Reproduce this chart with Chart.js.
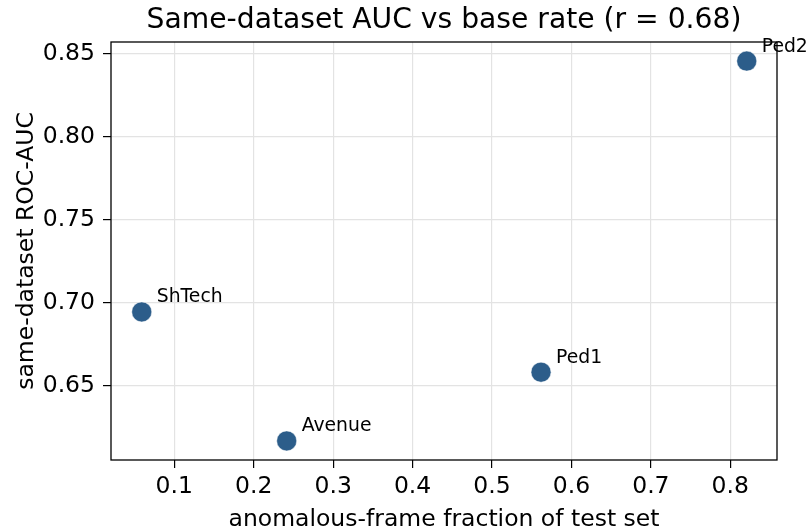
<!DOCTYPE html>
<html><head><meta charset="utf-8">
<script src="https://cdn.jsdelivr.net/npm/chart.js@4/dist/chart.umd.min.js"></script>
<style>html,body{margin:0;padding:0;background:#fff}#wrap{width:806px;height:529px}</style>
</head><body><div id="wrap"><canvas id="c" width="806" height="529"></canvas></div>
<script>
const labels = ['ShTech', 'Avenue', 'Ped1', 'Ped2'];
const anomFraction = [0.059, 0.2415, 0.5617, 0.8207];
const sameAuc = [0.6946, 0.6169, 0.6583, 0.8457];
const xTicks = [0.1, 0.2, 0.3, 0.4, 0.5, 0.6, 0.7, 0.8];
const yTicks = [0.65, 0.70, 0.75, 0.80, 0.85];
const titleText = 'Same-dataset AUC vs base rate (r = 0.68)';
const xLabel = 'anomalous-frame fraction of test set';
const yLabel = 'same-dataset ROC-AUC';

const FONT = "'DejaVu Sans', sans-serif";
const points = anomFraction.map((x, i) => ({x: x, y: sameAuc[i]}));

const deco = {
  id: 'deco',
  beforeDatasetsDraw(chart) {
    const {ctx, chartArea: a} = chart;
    ctx.save();
    ctx.strokeStyle = '#000';
    ctx.lineWidth = 1.3;
    ctx.strokeRect(a.left, a.top, a.right - a.left, a.bottom - a.top);
    ctx.restore();
  },
  afterDatasetsDraw(chart) {
    const {ctx, chartArea: a, scales} = chart;
    ctx.save();
    ctx.fillStyle = '#000';
    ctx.font = '18.8px ' + FONT;
    ctx.textAlign = 'left';
    ctx.textBaseline = 'alphabetic';
    points.forEach((p, i) => {
      const px = scales.x.getPixelForValue(p.x);
      const py = scales.y.getPixelForValue(p.y);
      ctx.fillText(labels[i], px + 15, py - 9.5);
    });
    ctx.textAlign = 'center';
    ctx.font = '28.2px ' + FONT;
    ctx.fillText(titleText, (a.left + a.right) / 2, 27.5);
    ctx.font = '23.5px ' + FONT;
    ctx.fillText(xLabel, (a.left + a.right) / 2, 526);
    ctx.translate(33, (a.top + a.bottom) / 2);
    ctx.rotate(-Math.PI / 2);
    ctx.fillText(yLabel, 0, 0);
    ctx.restore();
  }
};

new Chart(document.getElementById('c'), {
  type: 'scatter',
  data: {
    datasets: [{
      data: points,
      backgroundColor: '#2c5d8a',
      borderColor: 'rgba(255,255,255,0.6)',
      borderWidth: 0.8,
      pointRadius: 10,
      pointHoverRadius: 10
    }]
  },
  options: {
    responsive: false,
    animation: false,
    devicePixelRatio: 1,
    layout: {padding: {left: 0, right: 29, top: 42, bottom: 0}},
    plugins: {legend: {display: false}, tooltip: {enabled: false}, title: {display: false}},
    scales: {
      x: {
        type: 'linear', min: 0.0203, max: 0.8588,
        afterBuildTicks: s => { s.ticks = xTicks.map(v => ({value: v})); },
        afterFit: s => { s.height = 69; },
        grid: {color: '#e3e3e3', lineWidth: 1.2, tickColor: '#000', tickLength: 8, tickWidth: 1.2},
        border: {display: false},
        ticks: {color: '#000', font: {family: FONT, size: 23.5}, padding: 5, maxRotation: 0,
                callback: v => v.toFixed(1)}
      },
      y: {
        type: 'linear', min: 0.6054, max: 0.8572,
        afterBuildTicks: s => { s.ticks = yTicks.map(v => ({value: v})); },
        afterFit: s => { s.width = 111; },
        grid: {color: '#e3e3e3', lineWidth: 1.2, tickColor: '#000', tickLength: 8, tickWidth: 1.2},
        border: {display: false},
        ticks: {color: '#000', font: {family: FONT, size: 23.5}, padding: 8,
                callback: v => v.toFixed(2)}
      }
    }
  },
  plugins: [deco]
});
</script></body></html>
